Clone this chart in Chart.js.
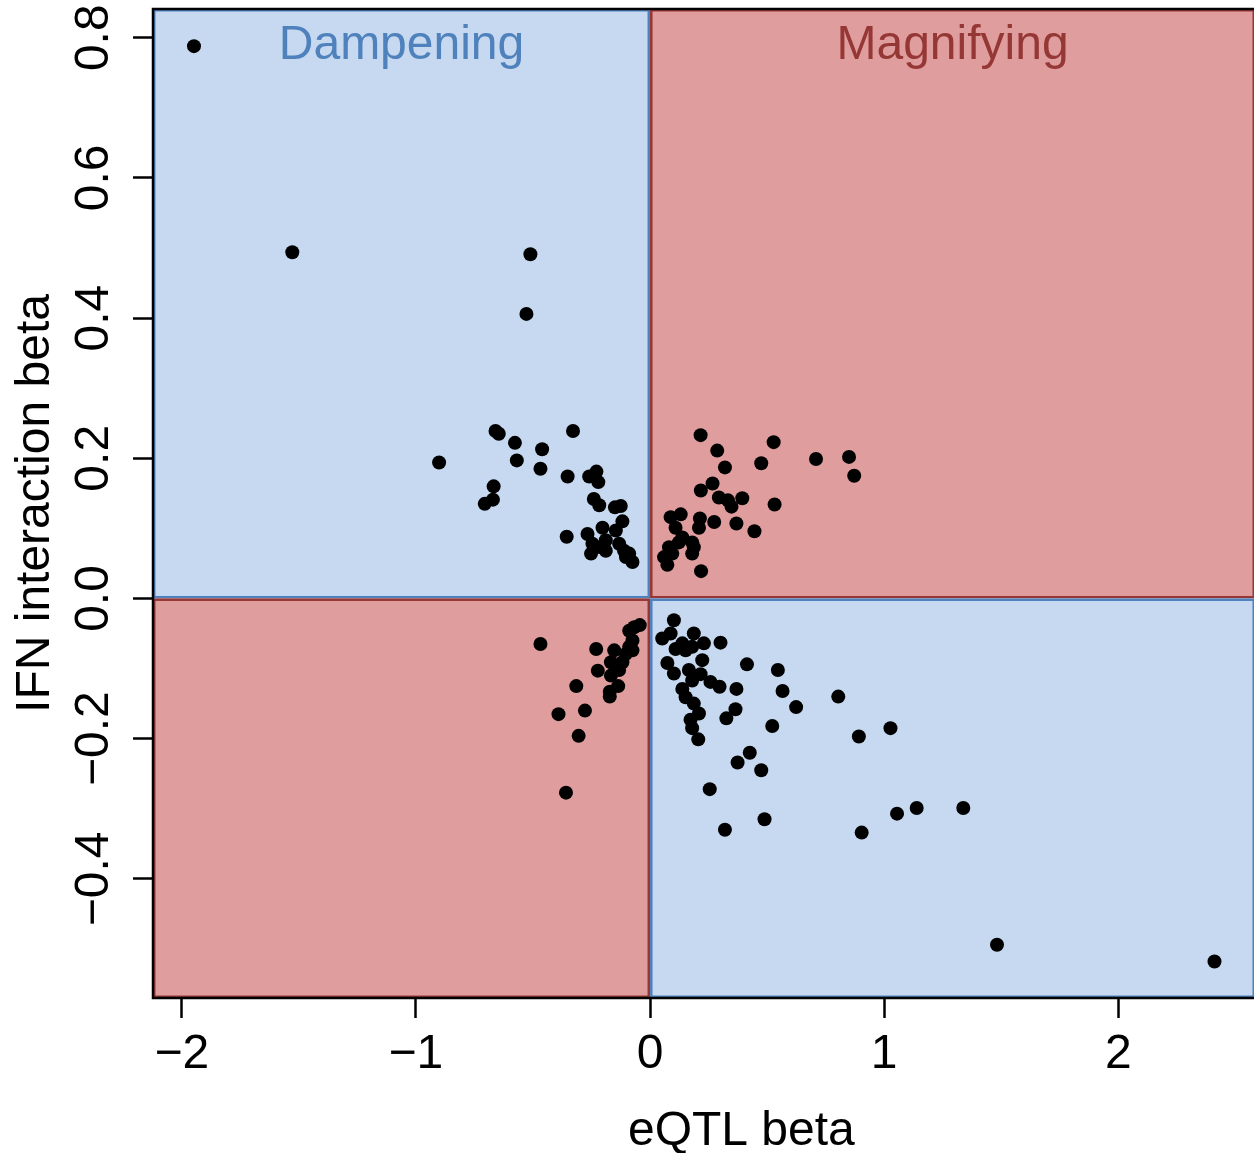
<!DOCTYPE html>
<html>
<head>
<meta charset="utf-8">
<title>eQTL beta vs IFN interaction beta</title>
<script src="https://cdn.jsdelivr.net/npm/chart.js@4.4.0/dist/chart.umd.min.js"></script>
<style>
  html, body { margin: 0; padding: 0; overflow: hidden; background: #fff; }
  #wrap { width: 1254px; height: 1153px; overflow: hidden; }
</style>
</head>
<body>
<div id="wrap"><canvas id="chart" width="1262" height="1153"></canvas></div>
<script>
// eQTL effect (x) and IFN interaction effect (y), one entry per SNP-gene pair
const eqtlBeta = [
  // upper left
  -1.948, -1.528, -0.511, -0.528, -0.901, -0.660, -0.646, -0.577, -0.569, -0.461,
  -0.468, -0.329, -0.352, -0.668, -0.671, -0.706, -0.260, -0.229, -0.221, -0.240,
  -0.217, -0.150, -0.125, -0.356, -0.118, -0.267, -0.203, -0.246, -0.189, -0.146,
  -0.252, -0.189, -0.132, -0.111, -0.089, -0.075, -0.103, -0.210,
  // upper right
  0.216, 0.287, 0.528, 0.320, 0.475, 0.709, 0.850, 0.872, 0.217, 0.267,
  0.294, 0.333, 0.348, 0.394, 0.532, 0.369, 0.446, 0.213, 0.274, 0.088,
  0.131, 0.109, 0.209, 0.138, 0.180, 0.081, 0.187, 0.180, 0.060, 0.095,
  0.074, 0.218, 0.123,
  // lower left
  -0.468, -0.230, -0.223, -0.315, -0.391, -0.278, -0.305, -0.359, -0.172, -0.172,
  -0.136, -0.132, -0.167, -0.167, -0.153, -0.103, -0.089, -0.075, -0.089, -0.068,
  -0.044, -0.118, -0.075,
  // lower right
  0.102, 0.052, 0.088, 0.187, 0.230, 0.301, 0.109, 0.152, 0.180, 0.138,
  0.074, 0.223, 0.102, 0.166, 0.216, 0.180, 0.258, 0.297, 0.414, 0.546,
  0.369, 0.566, 0.804, 0.624, 0.138, 0.152, 0.187, 0.209, 0.173, 0.180,
  0.206, 0.365, 0.326, 0.522, 0.892, 1.027, 0.426, 0.374, 0.475, 0.255,
  0.489, 0.320, 0.904, 1.055, 1.139, 1.338, 1.482, 2.411
];

const ifnBeta = [
  // upper left
  0.788, 0.494, 0.491, 0.406, 0.194, 0.239, 0.235, 0.222, 0.197, 0.213,
  0.185, 0.239, 0.174, 0.160, 0.141, 0.135, 0.174, 0.181, 0.166, 0.142,
  0.133, 0.130, 0.132, 0.088, 0.110, 0.092, 0.101, 0.078, 0.083, 0.097,
  0.064, 0.068, 0.078, 0.068, 0.064, 0.052, 0.059, 0.073,
  // upper right
  0.233, 0.211, 0.223, 0.187, 0.193, 0.199, 0.202, 0.175, 0.154, 0.164,
  0.144, 0.140, 0.131, 0.143, 0.134, 0.107, 0.096, 0.114, 0.109, 0.116,
  0.120, 0.101, 0.101, 0.087, 0.080, 0.073, 0.073, 0.064, 0.059, 0.064,
  0.048, 0.039, 0.080,
  // lower left
  -0.065, -0.072, -0.103, -0.125, -0.165, -0.160, -0.196, -0.277, -0.140, -0.133,
  -0.125, -0.102, -0.110, -0.091, -0.074, -0.079, -0.069, -0.060, -0.046, -0.041,
  -0.038, -0.091, -0.074,
  // lower right
  -0.031, -0.057, -0.050, -0.050, -0.064, -0.063, -0.072, -0.074, -0.069, -0.064,
  -0.092, -0.088, -0.107, -0.102, -0.108, -0.117, -0.119, -0.126, -0.094, -0.102,
  -0.129, -0.132, -0.140, -0.155, -0.129, -0.141, -0.150, -0.164, -0.173, -0.185,
  -0.201, -0.158, -0.171, -0.182, -0.197, -0.185, -0.220, -0.234, -0.245, -0.272,
  -0.315, -0.330, -0.334, -0.307, -0.299, -0.299, -0.494, -0.518
];

const xTicks = [-2, -1, 0, 1, 2];
const yTicks = [-0.4, -0.2, 0, 0.2, 0.4, 0.6, 0.8];
const xRange = [-2.123, 2.584];
const yRange = [-0.570, 0.841];
const xTitle = 'eQTL beta';
const yTitle = 'IFN interaction beta';
const dampLabel = 'Dampening';
const magLabel = 'Magnifying';

const FONT = '"Liberation Sans", Arial, Helvetica, sans-serif';
const colors = {
  dampFill: '#c6d9f0',
  dampLine: '#4f81bd',
  magFill: '#e09d9e',
  magLine: '#953735'
};

const fmt = (v, digits) => {
  const s = Math.abs(v).toFixed(digits);
  return v < 0 ? '\u2212' + s : s;
};

// coloured quadrants behind the points
const quadrantPlugin = {
  id: 'quadrants',
  beforeDatasetsDraw(chart) {
    const { ctx, scales: { x, y } } = chart;
    const x0 = x.getPixelForValue(xRange[0]);
    const xm = x.getPixelForValue(0);
    const x1 = x.getPixelForValue(xRange[1]);
    const y0 = y.getPixelForValue(yRange[0]);
    const ym = y.getPixelForValue(0);
    const y1 = y.getPixelForValue(yRange[1]);
    const boxes = [
      [x0, y1, xm, ym, 'damp'],
      [xm, y1, x1, ym, 'mag'],
      [x0, ym, xm, y0, 'mag'],
      [xm, ym, x1, y0, 'damp']
    ];
    const lw = 2.5;
    ctx.save();
    boxes.forEach(([l, t, r, b, kind]) => {
      ctx.fillStyle = colors[kind + 'Fill'];
      ctx.fillRect(l, t, r - l, b - t);
      ctx.strokeStyle = colors[kind + 'Line'];
      ctx.lineWidth = lw;
      ctx.strokeRect(l + lw / 2, t + lw / 2, r - l - lw, b - t - lw);
    });

    ctx.font = '48px ' + FONT;
    ctx.textAlign = 'center';
    ctx.textBaseline = 'alphabetic';
    const labelY = y.getPixelForValue(0.770);
    ctx.fillStyle = colors.dampLine;
    ctx.fillText(dampLabel, (x0 + xm) / 2, labelY);
    ctx.fillStyle = colors.magLine;
    ctx.fillText(magLabel, (xm + x1) / 2, labelY);
    ctx.restore();
  }
};

// frame, tick labels and axis titles in base-graphics style
const axesPlugin = {
  id: 'rAxes',
  afterDraw(chart) {
    const { ctx, chartArea: a, scales: { x, y } } = chart;
    ctx.save();
    ctx.strokeStyle = '#000';
    ctx.lineWidth = 2.5;
    ctx.beginPath();
    ctx.moveTo(a.right + 10, a.top);
    ctx.lineTo(a.left, a.top);
    ctx.lineTo(a.left, a.bottom);
    ctx.lineTo(a.right + 10, a.bottom);
    ctx.stroke();

    ctx.fillStyle = '#000';
    ctx.font = '48px ' + FONT;
    ctx.textAlign = 'center';
    ctx.textBaseline = 'alphabetic';

    xTicks.forEach((v) => {
      ctx.fillText(fmt(v, 0), x.getPixelForValue(v), a.bottom + 70);
    });
    yTicks.forEach((v) => {
      ctx.save();
      ctx.translate(a.left - 45, y.getPixelForValue(v));
      ctx.rotate(-Math.PI / 2);
      ctx.fillText(fmt(v, 1), 0, 0);
      ctx.restore();
    });

    ctx.fillText(xTitle, x.getPixelForValue(0.39), a.bottom + 147);
    ctx.save();
    ctx.translate(a.left - 104, (a.top + a.bottom) / 2);
    ctx.rotate(-Math.PI / 2);
    ctx.fillText(yTitle, 0, 0);
    ctx.restore();
    ctx.restore();
  }
};

const points = eqtlBeta.map((v, i) => ({ x: v, y: ifnBeta[i] }));

new Chart(document.getElementById('chart'), {
  type: 'scatter',
  data: {
    datasets: [{
      data: points,
      pointRadius: 7,
      pointHoverRadius: 7,
      pointBackgroundColor: '#000',
      pointBorderWidth: 0
    }]
  },
  options: {
    responsive: false,
    animation: false,
    events: [],
    layout: { padding: { left: 0, top: 9, right: 4, bottom: 0 } },
    plugins: { legend: { display: false }, tooltip: { enabled: false } },
    scales: {
      x: {
        type: 'linear',
        min: xRange[0],
        max: xRange[1],
        afterBuildTicks: (s) => { s.ticks = xTicks.map((v) => ({ value: v })); },
        afterFit: (s) => { s.height = 155; },
        ticks: { display: false },
        border: { display: false },
        grid: { drawOnChartArea: false, drawTicks: true, tickLength: 20, tickColor: '#000', tickWidth: 2.5 }
      },
      y: {
        type: 'linear',
        min: yRange[0],
        max: yRange[1],
        afterBuildTicks: (s) => { s.ticks = yTicks.map((v) => ({ value: v })); },
        afterFit: (s) => { s.width = 153; },
        ticks: { display: false },
        border: { display: false },
        grid: { drawOnChartArea: false, drawTicks: true, tickLength: 20, tickColor: '#000', tickWidth: 2.5 }
      }
    }
  },
  plugins: [quadrantPlugin, axesPlugin]
});
</script>
</body>
</html>
